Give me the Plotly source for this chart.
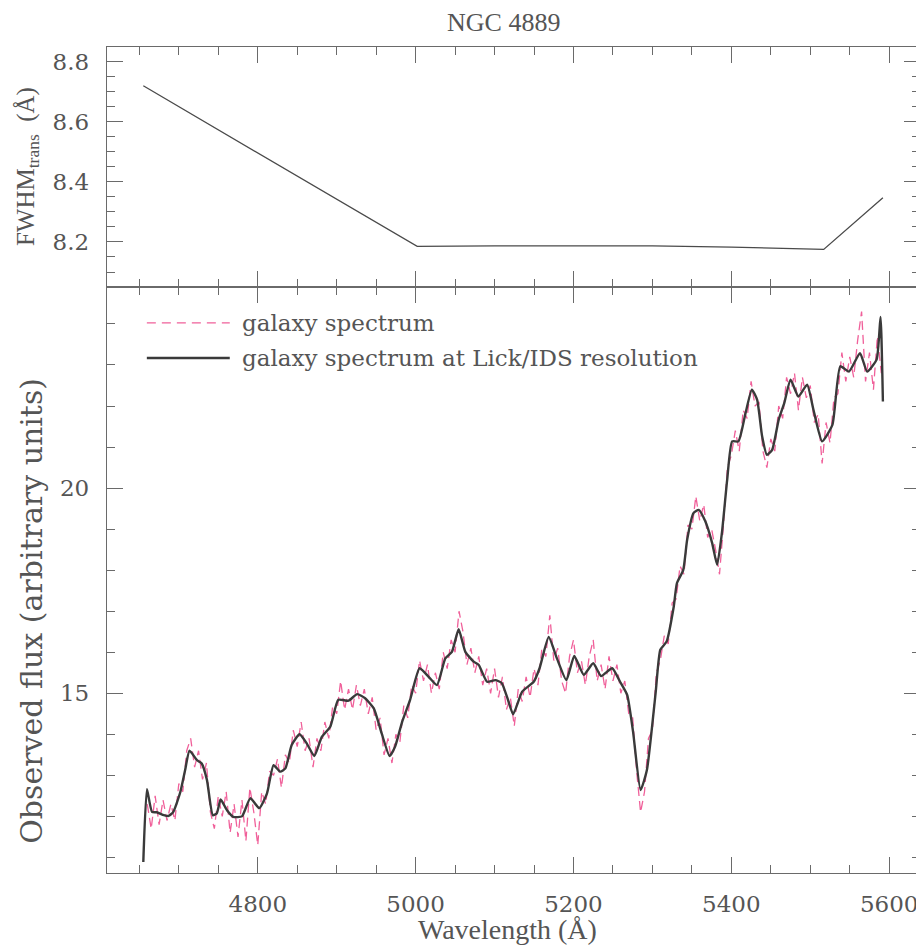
import plotly.graph_objects as go
from plotly.subplots import make_subplots

# ---- top panel: transformation FWHM ----
fwhm_wave = [4655, 5002, 5100, 5200, 5300, 5400, 5517, 5592]
fwhm_val = [8.719, 8.185, 8.187, 8.188, 8.187, 8.183, 8.175, 8.347]

# ---- bottom panel: galaxy spectrum (noisy, dashed pink) ----
spec_start = 4660
spec_step = 5
spec_flux = [
    12.3, 11.7, 12.5, 11.8, 12.4, 11.9, 12.3, 11.9, 12.8, 12.6,
    13.6, 13.9, 13.2, 13.6, 12.9, 13.3, 12.1, 11.7, 12.5, 12.0,
    12.6, 11.6, 12.3, 11.5, 12.4, 11.4, 12.7, 12.1, 11.3, 12.6,
    12.3, 13.1, 13.0, 13.4, 12.7, 13.5, 13.3, 14.1, 13.7, 14.3,
    13.6, 13.9, 13.2, 13.9, 13.6, 14.3, 13.9, 14.7, 14.5, 15.3,
    14.6, 15.1, 14.6, 15.2, 14.7, 15.1, 14.5, 14.9, 14.1, 14.4,
    13.5, 13.9, 13.3, 14.0, 13.8, 14.7, 14.4, 15.2, 15.0, 15.8,
    15.3, 15.7, 15.0, 15.5, 15.1, 16.0, 15.6, 16.3, 16.0, 17.0,
    16.5, 15.7, 16.1, 15.5, 15.9, 15.2, 15.6, 15.0, 15.6, 14.9,
    15.4, 14.6, 14.9, 14.2, 15.1, 14.8, 15.4, 14.9, 15.6, 15.2,
    16.1, 15.9, 16.9, 15.8, 16.1, 15.3, 15.0, 15.9, 16.3, 15.5,
    15.8, 15.2, 15.9, 16.3, 15.3, 15.7, 15.1, 15.9, 15.3, 15.7,
    15.0, 15.3, 14.5, 14.4, 13.1, 12.1, 12.6, 13.9, 14.1, 15.5,
    15.8, 16.4, 16.2, 17.2, 17.3, 18.1, 17.9, 19.1, 19.0, 19.8,
    19.2, 19.6, 18.8, 19.0, 18.5, 17.9, 19.1, 20.5, 20.8, 21.4,
    20.9, 21.9, 21.7, 22.6, 22.0, 22.1, 20.9, 20.5, 21.2, 20.9,
    22.0, 21.7, 22.7, 22.3, 22.8, 21.9, 22.7, 22.2, 22.5, 21.6,
    21.8, 20.6, 21.6, 21.1, 22.2, 22.3, 23.3, 22.6, 23.2, 22.7,
    23.6, 24.3, 22.6, 23.3, 22.4, 23.7, 22.8,
]
spec_wave = [spec_start + spec_step * i for i in range(len(spec_flux))]

# ---- bottom panel: spectrum at Lick/IDS resolution (solid dark) ----
lick_wave = [
    4655, 4659.6, 4666, 4672, 4681, 4687, 4693, 4702, 4708, 4713.5,
    4723, 4729, 4735.6, 4743, 4748, 4753, 4761, 4769, 4780, 4790.5,
    4802, 4811.7, 4820, 4828.5, 4835, 4843, 4853, 4862, 4871.6, 4881,
    4892, 4902, 4915, 4926, 4936, 4947, 4957, 4967, 4974, 4983,
    4993, 5005, 5016.5, 5027, 5037.6, 5046, 5054.5, 5063, 5073.5, 5080,
    5090.5, 5101, 5109, 5116, 5123.5, 5135, 5149.6, 5157, 5168.6, 5179,
    5191, 5201, 5213, 5225, 5235, 5249, 5259, 5268, 5275.5, 5285,
    5293, 5304, 5310, 5318, 5327, 5331, 5339, 5344, 5352, 5358.7,
    5367, 5375.7, 5382, 5388, 5394.7, 5401, 5409, 5418, 5426, 5432.7,
    5439, 5445, 5451.7, 5460, 5467, 5475, 5485, 5496, 5504, 5515,
    5528, 5538, 5549, 5563, 5572, 5584, 5589, 5592,
]
lick_flux = [
    10.89, 12.66, 12.11, 12.10, 12.03, 12.01, 12.11, 12.60, 13.13, 13.60,
    13.37, 13.29, 12.89, 12.03, 12.07, 12.41, 12.15, 11.99, 12.00, 12.44,
    12.20, 12.56, 13.25, 13.09, 13.17, 13.74, 14.00, 13.78, 13.47, 13.93,
    14.19, 14.84, 14.82, 14.98, 14.88, 14.63, 14.02, 13.47, 13.70, 14.31,
    14.84, 15.61, 15.40, 15.20, 15.85, 16.01, 16.56, 16.01, 15.77, 15.69,
    15.28, 15.32, 15.25, 14.90, 14.49, 15.04, 15.28, 15.61, 16.37, 15.85,
    15.32, 15.91, 15.45, 15.73, 15.42, 15.61, 15.28, 14.96, 14.06, 12.64,
    13.13, 15.00, 16.06, 16.26, 17.11, 17.68, 18.00, 18.74, 19.39, 19.47,
    19.19, 18.66, 18.13, 18.90, 20.20, 21.14, 21.14, 21.83, 22.40, 22.15,
    21.26, 20.81, 20.93, 21.67, 22.07, 22.64, 22.23, 22.52, 21.91, 21.14,
    21.54, 22.97, 22.84, 23.29, 22.84, 23.13, 24.17, 22.11,
]

title_text = "NGC 4889"
legend_labels = ["galaxy spectrum", "galaxy spectrum at Lick/IDS resolution"]
x_title = "Wavelength (Å)"
y_title_top = "FWHM<sub>trans</sub>  (Å)"
y_title_bottom = "Observed flux (arbitrary units)"

PINK = "#f0609a"
DARK = "#3a3a3a"
AXC = "#6a6a6a"
TXT = "#555555"
TICKFONT = dict(family="DejaVu Serif", size=23, color=TXT)

fig = make_subplots(rows=2, cols=1, shared_xaxes=True, vertical_spacing=0,
                    row_heights=[0.2906, 0.7094])

fig.add_trace(go.Scatter(x=fwhm_wave, y=fwhm_val, mode="lines",
                         line=dict(color="#4a4a4a", width=1.3),
                         showlegend=False), row=1, col=1)
fig.add_trace(go.Scatter(x=spec_wave, y=spec_flux, mode="lines",
                         line=dict(color=PINK, width=1.3, dash="9px,5px"),
                         name=legend_labels[0], showlegend=False), row=2, col=1)
fig.add_trace(go.Scatter(x=lick_wave, y=lick_flux, mode="lines",
                         line=dict(color=DARK, width=2.4, shape="spline", smoothing=0.5),
                         name=legend_labels[1], showlegend=False), row=2, col=1)

common_axis = dict(showline=True, linecolor=AXC, linewidth=1.4, mirror="ticks",
                   ticks="inside", ticklen=16, tickwidth=1.2, tickcolor=AXC,
                   showgrid=False, zeroline=False, tickfont=TICKFONT)
xr = [4609, 5639]
fig.update_xaxes(range=xr, tick0=4800, dtick=200,
                 minor=dict(ticks="inside", ticklen=8, tickwidth=1.2,
                            tickcolor=AXC, dtick=50, tick0=4800, showgrid=False),
                 **common_axis)
fig.update_xaxes(showticklabels=False, row=1, col=1)
fig.update_xaxes(ticklabelstandoff=10, row=2, col=1)
fig.update_yaxes(range=[8.05, 8.848], tick0=8.2, dtick=0.2, ticklabelstandoff=12,
                 minor=dict(ticks="inside", ticklen=8, tickwidth=1.2,
                            tickcolor=AXC, dtick=0.05, tick0=8.2, showgrid=False),
                 row=1, col=1, **common_axis)
fig.update_yaxes(range=[10.62, 24.90], tick0=15, dtick=5, ticklabelstandoff=12,
                 minor=dict(ticks="inside", ticklen=8, tickwidth=1.2,
                            tickcolor=AXC, dtick=1, tick0=15, showgrid=False),
                 row=2, col=1, **common_axis)

# custom legend (samples in paper coordinates)
leg_y = [0.666, 0.6235]
fig.add_shape(type="line", xref="paper", yref="paper", x0=0.049, x1=0.151,
              y0=leg_y[0], y1=leg_y[0], line=dict(color=PINK, width=1.3, dash="9px,6px"))
fig.add_shape(type="line", xref="paper", yref="paper", x0=0.049, x1=0.151,
              y0=leg_y[1], y1=leg_y[1], line=dict(color=DARK, width=2.4))
for lbl, yy in zip(legend_labels, leg_y):
    fig.add_annotation(text=lbl, xref="paper", yref="paper", x=0.164, y=yy,
                       xanchor="left", yanchor="middle", showarrow=False,
                       font=dict(family="DejaVu Serif", size=23, color=TXT))

fig.add_annotation(text=title_text, xref="paper", yref="paper", x=0.488, y=1.030,
                   xanchor="center", yanchor="middle", showarrow=False,
                   font=dict(family="Liberation Serif", size=26, color=TXT))
fig.add_annotation(text=x_title, xref="paper", yref="paper", x=0.493, y=-0.0690,
                   xanchor="center", yanchor="middle", showarrow=False,
                   font=dict(family="Liberation Serif", size=28, color=TXT))
fig.add_annotation(text=y_title_bottom, xref="paper", yref="paper", x=-0.093, y=0.318,
                   xanchor="center", yanchor="middle", showarrow=False, textangle=-90,
                   font=dict(family="DejaVu Serif", size=30, color=TXT))
fig.add_annotation(text=y_title_top, xref="paper", yref="paper", x=-0.098, y=0.855,
                   xanchor="center", yanchor="middle", showarrow=False, textangle=-90,
                   font=dict(family="Liberation Serif", size=25, color=TXT))

# page body has an 8px margin, so the figure is sized to end at the window edge
fig.update_layout(width=916, height=944, autosize=False,
                  margin=dict(l=99, r=4, t=39, b=79),
                  paper_bgcolor="white", plot_bgcolor="white")

fig.write_html("out.html")
